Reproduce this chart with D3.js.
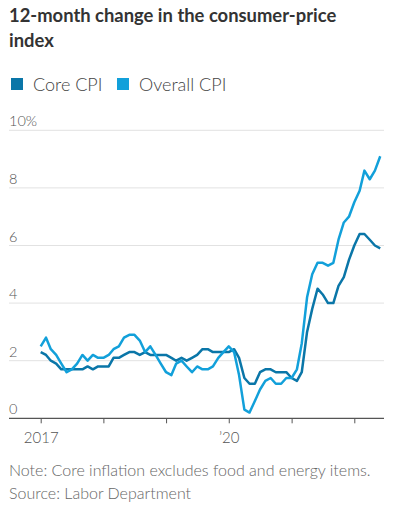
<!DOCTYPE html>
<html>
<head>
<meta charset="utf-8">
<script src="https://cdn.jsdelivr.net/npm/d3@7"></script>
<style>
  body { margin: 0; background: #fff; }
  svg { display: block; }
  text { font-family: Lato, "Noto Sans", sans-serif; }
</style>
</head>
<body>
<svg id="chart" width="394" height="517"></svg>
<script>
// ---- data (12-month % change, Jan 2017 - Jun 2022)
var coreCpi = [
  2.3, 2.2, 2.0, 1.9, 1.7, 1.7, 1.7, 1.7, 1.7, 1.8, 1.7, 1.8,   // 2017
  1.8, 1.8, 2.1, 2.1, 2.2, 2.3, 2.3, 2.2, 2.3, 2.2, 2.2, 2.2,   // 2018
  2.2, 2.1, 2.0, 2.1, 2.0, 2.1, 2.2, 2.4, 2.4, 2.3, 2.3, 2.3,   // 2019
  2.3, 2.4, 2.1, 1.4, 1.2, 1.2, 1.6, 1.7, 1.7, 1.6, 1.6, 1.6,   // 2020
  1.4, 1.3, 1.6, 3.0, 3.8, 4.5, 4.3, 4.0, 4.0, 4.6, 4.9, 5.5,   // 2021
  6.0, 6.4, 6.4, 6.2, 6.0, 5.9                                  // 2022
];
var overallCpi = [
  2.5, 2.8, 2.4, 2.2, 1.9, 1.6, 1.7, 1.9, 2.2, 2.0, 2.2, 2.1,   // 2017
  2.1, 2.2, 2.4, 2.5, 2.8, 2.9, 2.9, 2.7, 2.3, 2.5, 2.2, 1.9,   // 2018
  1.6, 1.5, 1.9, 2.0, 1.8, 1.6, 1.8, 1.7, 1.7, 1.8, 2.1, 2.3,   // 2019
  2.5, 2.3, 1.5, 0.3, 0.2, 0.6, 1.0, 1.3, 1.4, 1.2, 1.2, 1.4,   // 2020
  1.4, 1.7, 2.6, 4.2, 5.0, 5.4, 5.4, 5.3, 5.4, 6.2, 6.8, 7.0,   // 2021
  7.5, 7.9, 8.6, 8.3, 8.6, 9.1                                  // 2022
];
var seriesNames = ['Core CPI', 'Overall CPI'];
var seriesColors = ['#0a76a8', '#12a0da'];
var yTicks = [0, 2, 4, 6, 8, 10];
var xTickYears = [2017, 2018, 2019, 2020, 2021, 2022];
var xTickLabels = ['2017', '', '', '\u201920', '', ''];
var notes = ['Note: Core inflation excludes food and energy items.', 'Source: Labor Department'];

var svg = d3.select('#chart');
var months = d3.timeMonth.range(new Date(2017, 0, 1), new Date(2017, 0 + coreCpi.length, 1));

var x = d3.scaleTime()
  .domain([new Date(2017, 0, 1), new Date(2022, 0, 1)])
  .range([40.7, 354.3]);
var y = d3.scaleLinear().domain([0, 10]).range([418.3, 130.3]);

// title
svg.append('text')
  .attr('x', 9).attr('y', 0)
  .attr('font-size', 18.4).attr('font-weight', 700).attr('fill', '#333')
  .selectAll('tspan')
  .data(['12-month change in the consumer-price', 'index'])
  .enter().append('tspan')
    .attr('x', 9)
    .attr('y', function (d, i) { return 22 + i * 25; })
    .text(function (d) { return d; });

// legend
var legendX = [11, 117];
var legend = svg.selectAll('.legend').data(seriesNames).enter().append('g')
  .attr('class', 'legend')
  .attr('transform', function (d, i) { return 'translate(' + legendX[i] + ',78)'; });
legend.append('rect')
  .attr('width', 12).attr('height', 12)
  .attr('fill', function (d, i) { return seriesColors[i]; });
legend.append('text')
  .attr('x', 22).attr('y', 12.5)
  .attr('font-size', 18).attr('font-weight', 300).attr('fill', '#444')
  .text(function (d) { return d; });

// grid + y labels
svg.selectAll('.grid').data(yTicks.filter(function (d) { return d > 0; })).enter().append('line')
  .attr('x1', 9).attr('x2', 384)
  .attr('y1', function (d) { return y(d); })
  .attr('y2', function (d) { return y(d); })
  .attr('stroke', '#e2e2e2').attr('stroke-width', 1);

svg.selectAll('.ylab').data(yTicks).enter().append('text')
  .attr('x', 9)
  .attr('y', function (d) { return y(d) - 4; })
  .attr('font-size', 14.5).attr('font-weight', 300).attr('fill', '#555')
  .text(function (d) { return d === 10 ? '10%' : d; });

// x axis
var xAxis = d3.axisBottom(x)
  .tickValues(xTickYears.map(function (yr) { return new Date(yr, 0, 1); }))
  .tickSize(5)
  .tickFormat(function (d, i) { return xTickLabels[i]; });
var gx = svg.append('g').attr('transform', 'translate(0,' + y(0) + ')').call(xAxis);
gx.select('.domain').remove();
gx.selectAll('.tick line').attr('stroke', '#555');
gx.selectAll('.tick text')
  .attr('font-family', 'Lato, sans-serif')
  .attr('font-size', 15).attr('font-weight', 300).attr('fill', '#555')
  .attr('dy', 0).attr('y', 24.5);
gx.append('line').attr('x1', 9).attr('x2', 384).attr('stroke', '#555').attr('stroke-width', 1.2);

// lines
var line = d3.line()
  .x(function (d, i) { return x(months[i]); })
  .y(function (d) { return y(d); });

svg.selectAll('.series').data([coreCpi, overallCpi]).enter().append('path')
  .attr('fill', 'none')
  .attr('stroke', function (d, i) { return seriesColors[i]; })
  .attr('stroke-width', 2.5)
  .attr('stroke-linejoin', 'round')
  .attr('d', line);

// notes
svg.selectAll('.note').data(notes).enter().append('text')
  .attr('x', 9)
  .attr('y', function (d, i) { return 476 + i * 23; })
  .attr('font-size', 16).attr('font-weight', 300).attr('fill', '#666')
  .text(function (d) { return d; });
</script>
</body>
</html>
